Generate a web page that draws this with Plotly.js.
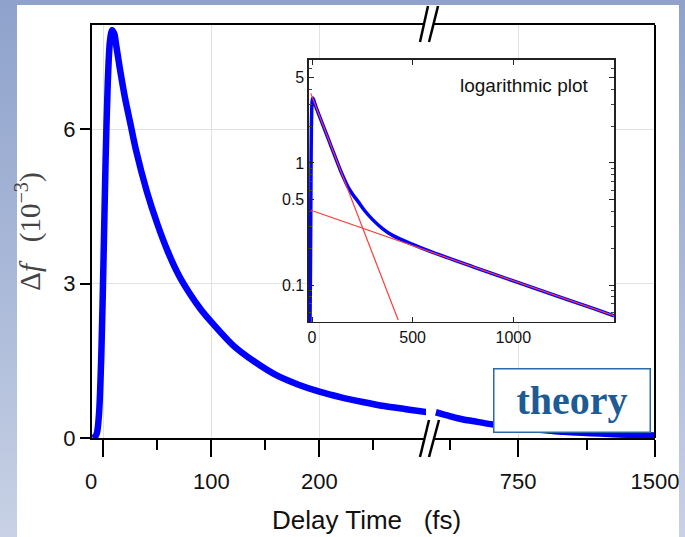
<!DOCTYPE html>
<html>
<head>
<meta charset="utf-8">
<script src="https://cdn.plot.ly/plotly-3.0.1.min.js"></script>
<style>
  html, body { margin: 0; padding: 0; width: 685px; height: 537px; overflow: hidden;
    background: linear-gradient(to bottom, #8ea2cb 0%, #a9b8d8 50%, #c8d1e5 100%); }
  #panel { position: absolute; left: 17px; top: 5px; width: 662px; height: 532px; background: #ffffff; }
  #chart { position: absolute; left: 0; top: 0; width: 685px; height: 537px; }
</style>
</head>
<body>
<div id="panel"></div>
<div id="chart"></div>
<script>
// ---- main plot, segment before the axis break (fs, 10^-3) ----
const tMainEarly = [-10, -8, -6, -4, -2, 0, 2, 4, 6, 8, 10, 12, 15, 20, 25, 30, 40, 50, 60, 70, 80, 90, 100, 120, 140, 160, 180, 200, 220, 240, 260, 280, 300];
const dfMainEarly = [0, 0.02, 0.1, 0.5, 1.6, 3.4, 5.4, 6.9, 7.7, 7.92, 7.85, 7.6, 7.2, 6.6, 6.1, 5.6, 4.8, 4.15, 3.6, 3.15, 2.8, 2.5, 2.25, 1.8, 1.48, 1.22, 1.04, 0.9, 0.79, 0.7, 0.62, 0.56, 0.5];
// ---- main plot, segment after the axis break ----
const tMainLate = [300, 350, 400, 450, 500, 600, 700, 750, 800, 900, 1000, 1100, 1200, 1300, 1400, 1500];
const dfMainLate = [0.5, 0.45, 0.4, 0.36, 0.33, 0.27, 0.22, 0.2, 0.18, 0.15, 0.12, 0.1, 0.085, 0.07, 0.06, 0.05];
// ---- inset (logarithmic plot) ----
const tInset = [-12, -10, -7, -5, -3, 0, 3, 6, 20, 50, 80, 110, 140, 160, 180, 200, 230, 260, 300, 350, 400, 500, 600, 800, 1000, 1200, 1400, 1500];
const dfInset = [0.04, 0.05, 0.2, 0.8, 2.0, 3.1, 3.4, 3.35, 2.87, 2.13, 1.59, 1.18, 0.88, 0.74, 0.63, 0.56, 0.48, 0.41, 0.345, 0.29, 0.255, 0.215, 0.185, 0.141, 0.108, 0.083, 0.064, 0.056];
const tFastFit = [-6, 428];
const dfFastFit = [3.72, 0.0516];
const tSlowFit = [-5, 1500];
const dfSlowFit = [0.41, 0.056];
// ---- ticks ----
const xTicksEarly = [0, 100, 200];
const xTickTextEarly = ['0\u00a0\u00a0\u00a0\u00a0', '100', '200'];
const xMinorEarly = [50, 150, 250];
const xTicksLate = [750, 1500];
const xTickTextLate = ['750', '1500'];
const xMinorLate = [375, 1125];
const yTicks = [0, 3, 6];
const insetXTicks = [0, 500, 1000];
const insetYTicks = [0.1, 0.5, 1, 5];
const insetYTickText = ['0.1', '0.5', '1', '5'];

const sans = 'Liberation Sans, Arial, sans-serif';
const serif = 'Liberation Serif, Times New Roman, serif';

const traces = [
  { x: tMainEarly, y: dfMainEarly, xaxis: 'x', yaxis: 'y', mode: 'lines',
    line: { color: '#0000ff', width: 6.5, shape: 'spline', smoothing: 0.8 }, hoverinfo: 'skip' },
  { x: tMainLate, y: dfMainLate, xaxis: 'x2', yaxis: 'y', mode: 'lines',
    line: { color: '#0000ff', width: 6.5, shape: 'spline', smoothing: 0.8 }, hoverinfo: 'skip' },
  { x: tInset, y: dfInset, xaxis: 'x3', yaxis: 'y3', mode: 'lines',
    line: { color: '#0000ff', width: 3.5, shape: 'spline', smoothing: 0.8 }, hoverinfo: 'skip' },
  { x: tFastFit, y: dfFastFit, xaxis: 'x3', yaxis: 'y3', mode: 'lines',
    line: { color: '#ff3b3b', width: 1.2 }, hoverinfo: 'skip' },
  { x: tSlowFit, y: dfSlowFit, xaxis: 'x3', yaxis: 'y3', mode: 'lines',
    line: { color: '#ff3b3b', width: 1.2 }, hoverinfo: 'skip' }
];

const mainX = {
  showline: true, linecolor: '#000', linewidth: 2, mirror: true,
  ticks: 'outside', ticklen: 17, tickwidth: 2, tickcolor: '#000',
  showgrid: true, gridcolor: '#e2e2e2', gridwidth: 1, zeroline: false,
  tickfont: { family: sans, size: 22, color: '#111' }, ticklabelstandoff: 6
};

const layout = {
  width: 685, height: 537,
  margin: { l: 92, r: 30, t: 25, b: 99 },
  paper_bgcolor: 'rgba(0,0,0,0)', plot_bgcolor: '#ffffff',
  showlegend: false,
  xaxis: Object.assign({}, mainX, {
    domain: [0, 0.5932], range: [-10.6, 298.6], anchor: 'y',
    tickmode: 'array', tickvals: xTicksEarly, ticktext: xTickTextEarly,
    minor: { tickmode: 'array', tickvals: xMinorEarly, ticks: 'outside', ticklen: 10, tickwidth: 2, tickcolor: '#000', showgrid: false }
  }),
  xaxis2: Object.assign({}, mainX, {
    domain: [0.6004, 1], range: [268, 1500], anchor: 'y',
    tickmode: 'array', tickvals: xTicksLate, ticktext: xTickTextLate,
    minor: { tickmode: 'array', tickvals: xMinorLate, ticks: 'outside', ticklen: 10, tickwidth: 2, tickcolor: '#000', showgrid: false }
  }),
  yaxis: {
    domain: [0, 1], range: [0, 8.02], anchor: 'x',
    showline: true, linecolor: '#000', linewidth: 2,
    ticks: 'outside', ticklen: 10, tickwidth: 2, tickcolor: '#000',
    tickmode: 'array', tickvals: yTicks,
    showgrid: true, gridcolor: '#e2e2e2', zeroline: false,
    tickfont: { family: sans, size: 22, color: '#111' },
    title: { text: '\u0394<i>f</i>\u00a0\u00a0\u00a0(10<sup>\u22123</sup>)', font: { family: serif, size: 29, color: '#444' }, standoff: 14 }
  },
  xaxis3: {
    domain: [0.3854, 0.9272], range: [-15, 1500], anchor: 'y3',
    showline: true, linecolor: '#222', linewidth: 1.5, mirror: 'ticks',
    ticks: 'inside', ticklen: 5, tickwidth: 1, tickcolor: '#222',
    tickmode: 'array', tickvals: insetXTicks,
    showgrid: false, zeroline: false,
    tickfont: { family: sans, size: 16, color: '#111' }
  },
  yaxis3: {
    domain: [0.2809, 0.9153], type: 'log', range: [-1.303, 0.844], anchor: 'x3',
    showline: true, linecolor: '#222', linewidth: 1.5, mirror: 'ticks',
    ticks: 'inside', ticklen: 5, tickwidth: 1, tickcolor: '#222',
    tickmode: 'array', tickvals: insetYTicks, ticktext: insetYTickText,
    minor: { dtick: 'D1', ticks: 'inside', ticklen: 3, tickcolor: '#444', showgrid: false },
    showgrid: false, zeroline: false,
    tickfont: { family: sans, size: 16, color: '#111' }
  },
  shapes: [
    { type: 'line', xref: 'paper', yref: 'paper', x0: 1, x1: 1, y0: 0, y1: 1, line: { color: '#000', width: 2 } },
    { type: 'rect', xref: 'paper', yref: 'paper', x0: 0.590, x1: 0.607, y0: -0.008, y1: 0.008, fillcolor: '#fff', line: { width: 0 } },
    { type: 'line', xref: 'paper', yref: 'paper', x0: 0.5826, y0: -0.0460, x1: 0.5986, y1: 0.0436, line: { color: '#000', width: 2.5 } },
    { type: 'line', xref: 'paper', yref: 'paper', x0: 0.5986, y0: -0.0460, x1: 0.6163, y1: 0.0436, line: { color: '#000', width: 2.5 } },
    { type: 'rect', xref: 'paper', yref: 'paper', x0: 0.590, x1: 0.607, y0: 0.992, y1: 1.008, fillcolor: '#fff', line: { width: 0 } },
    { type: 'line', xref: 'paper', yref: 'paper', x0: 0.5826, y0: 0.9588, x1: 0.5968, y1: 1.0460, line: { color: '#000', width: 2.5 } },
    { type: 'line', xref: 'paper', yref: 'paper', x0: 0.5986, y0: 0.9588, x1: 0.6146, y1: 1.0460, line: { color: '#000', width: 2.5 } }
  ],
  annotations: [
    { text: 'Delay Time\u00a0\u00a0\u00a0(fs)', xref: 'paper', yref: 'paper', x: 0.4867, y: -0.1985,
      showarrow: false, font: { family: sans, size: 26, color: '#111' }, xanchor: 'center', yanchor: 'middle' },
    { text: 'logarithmic plot', xref: 'paper', yref: 'paper', x: 0.7673, y: 0.8547,
      showarrow: false, font: { family: sans, size: 19, color: '#111' }, xanchor: 'center', yanchor: 'middle' },
    { text: '<b>theory</b>', xref: 'paper', yref: 'paper', x: 0.8517, y: 0.092,
      showarrow: false, font: { family: serif, size: 40, color: '#1d5b95' },
      xanchor: 'center', yanchor: 'middle', width: 155, height: 62, borderpad: 0,
      bgcolor: '#ffffff', bordercolor: '#2a6aa6', borderwidth: 1.5 }
  ]
};

Plotly.newPlot('chart', traces, layout, { displayModeBar: false, staticPlot: true });
</script>
</body>
</html>
